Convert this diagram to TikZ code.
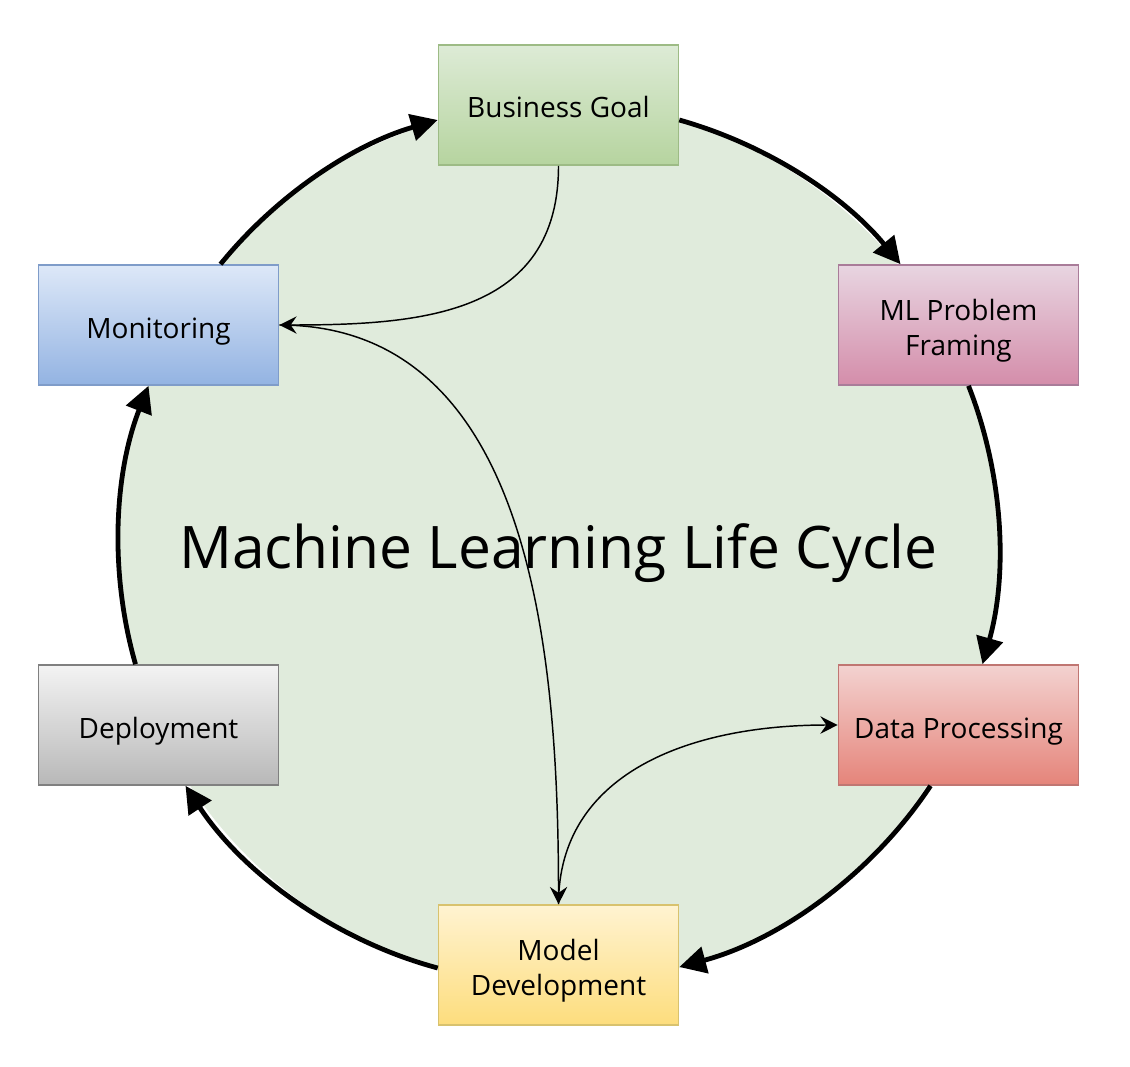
\documentclass[tikz,border=0pt]{standalone}
\usepackage{fontspec}
\setmainfont{Open Sans}
\usetikzlibrary{arrows.meta,calc}
\definecolor{ringfill}{HTML}{E0EBDC}
\definecolor{bgT}{HTML}{DDEBD6}\definecolor{bgB}{HTML}{B6D49F}\definecolor{bgD}{HTML}{9DBB85}
\definecolor{mlT}{HTML}{E8D5E1}\definecolor{mlB}{HTML}{D48DAA}\definecolor{mlD}{HTML}{A97C99}
\definecolor{dpT}{HTML}{F3D2D0}\definecolor{dpB}{HTML}{E5847A}\definecolor{dpD}{HTML}{C07672}
\definecolor{mdT}{HTML}{FFF3D1}\definecolor{mdB}{HTML}{FDDD7D}\definecolor{mdD}{HTML}{D8C26E}
\definecolor{deT}{HTML}{F3F3F3}\definecolor{deB}{HTML}{B8B8B8}\definecolor{deD}{HTML}{808080}
\definecolor{moT}{HTML}{DDE8F8}\definecolor{moB}{HTML}{93B3E2}\definecolor{moD}{HTML}{7F9CC9}
\begin{document}
\begin{tikzpicture}[x=0.75pt,y=-0.75pt,
  box/.style={rectangle, minimum width=180pt, minimum height=90pt, inner sep=0pt,
    line width=1.2pt, font=\fontsize{21}{26}\selectfont, align=center},
  oneline/.style={box, text height=24pt, text depth=4.5pt},
  twoline/.style={box, text height=50pt, text depth=5pt},
  ring/.style={circle, minimum size=660pt, inner sep=0pt, fill=ringfill},
  cyc/.style={line width=3.6pt, -{Triangle[length=20pt,width=20pt]}, looseness=0.87},
  thinarrow/.style={line width=1.1pt, -{Stealth[length=13pt,width=13pt,inset=4.5pt]}},
]
\useasboundingbox (0,0) rectangle (1130,1066);
\node[ring] (ring) at (558.5,545) {};
\node[anchor=base, font=\fontsize{44}{52}\selectfont] (title) at (558.5,568) {Machine Learning Life Cycle};

\node[oneline, top color=bgT, bottom color=bgB, draw=bgD] (bg)  at (558.5,105) {Business Goal};
\node[twoline, top color=mlT, bottom color=mlB, draw=mlD] (mlp) at (958.5,325) {ML Problem\\Framing};
\node[oneline, top color=dpT, bottom color=dpB, draw=dpD] (dp)  at (958.5,725) {Data Processing};
\node[twoline, top color=mdT, bottom color=mdB, draw=mdD] (md)  at (558.5,965) {Model\\Development};
\node[oneline, top color=deT, bottom color=deB, draw=deD] (dep) at (158.5,725) {Deployment};
\node[oneline, top color=moT, bottom color=moB, draw=moD] (mon) at (158.5,325) {Monitoring};

\draw[cyc] ($(bg.east)+(0,15)$) to[bend left=17.4] ($(mlp.north)+(-58,0)$);
\draw[cyc] ($(mlp.south)+(10,0)$) to[bend left=18.6] ($(dp.north)+(24,0)$);
\draw[cyc] ($(dp.south)+(-28,0)$) to[bend left=20.7] ($(md.east)+(0,2)$);
\draw[cyc] ($(md.west)+(0,3)$) to[bend left=20.8] ($(dep.south)+(27,0)$);
\draw[cyc] ($(dep.north)+(-23,0)$) to[bend left=18.7] ($(mon.south)+(-10,0)$);
\draw[cyc] ($(mon.north)+(62,0)$) to[bend left=17.4] ($(bg.west)+(0,15)$);

\draw[thinarrow] (bg.south) .. controls +(0,150) and +(140,0) .. (mon.east);
\draw[thinarrow] (mon.east) .. controls +(252,0) and +(0,-252) .. (md.north);
\draw[thinarrow] (md.north) .. controls +(0,-130) and +(-150,0) .. (dp.west);
\end{tikzpicture}
\end{document}
